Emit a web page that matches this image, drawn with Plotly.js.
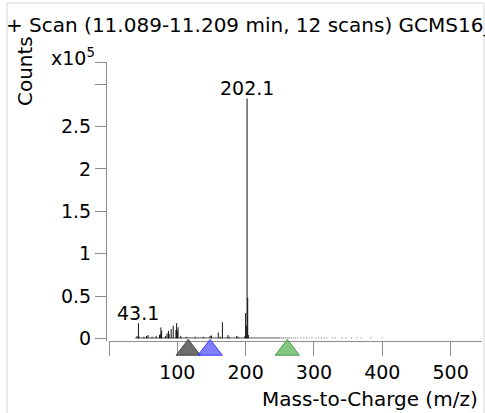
<!DOCTYPE html>
<html>
<head>
<meta charset="utf-8">
<script src="https://cdn.plot.ly/plotly-3.0.1.min.js"></script>
<style>html,body{margin:0;padding:0;background:#fff;}#chart{width:485px;height:413px;}</style>
</head>
<body>
<div id="chart"></div>
<script>
// Major peaks (m/z, counts x10^5)
const majorMz = [41, 43.1, 44, 51, 55, 57, 63, 69, 74, 75, 76, 77, 83, 85, 87, 88, 91, 94, 98, 99, 100, 101, 105, 113, 126, 138, 148, 150, 160, 163, 166, 174, 176, 187, 189, 199, 200, 201, 202.1, 203, 204];
const majorInt = [0.03, 0.18, 0.02, 0.02, 0.03, 0.04, 0.02, 0.03, 0.04, 0.05, 0.13, 0.09, 0.03, 0.06, 0.09, 0.05, 0.11, 0.15, 0.10, 0.18, 0.09, 0.13, 0.03, 0.02, 0.02, 0.02, 0.03, 0.035, 0.07, 0.02, 0.19, 0.04, 0.02, 0.03, 0.02, 0.03, 0.30, 0.15, 2.83, 0.48, 0.04];

// Minor baseline peaks
const minorMz = [39, 40, 42, 45, 46, 47, 48, 49, 50, 52, 53, 54, 56, 58, 59, 60, 61, 62, 64, 65, 66, 67, 68, 70, 71, 72, 73, 78, 79, 80, 81, 82, 84, 86, 89, 90, 92, 93, 95, 96, 97, 102, 103, 104, 106, 107, 108, 109, 110, 111, 112, 114, 115, 116, 117, 118, 119, 120, 121, 122, 123, 124, 125, 127, 128, 129, 130, 131, 132, 133, 134, 135, 136, 137, 139, 140, 141, 142, 143, 144, 145, 146, 147, 149, 151, 152, 153, 154, 155, 156, 157, 158, 159, 161, 162, 164, 165, 167, 168, 169, 170, 171, 172, 173, 175, 177, 178, 179, 180, 181, 182, 183, 184, 185, 186, 188, 190, 191, 192, 193, 194, 195, 196, 197, 198, 205, 206, 207, 208, 209, 210, 211, 212, 213, 214, 215, 216, 217, 218, 219, 220, 221, 222, 223, 224, 225, 226, 227, 228, 229, 230, 231, 232, 233, 234, 235, 236, 237, 238, 239, 240, 241, 242, 243, 244, 245, 246, 247, 248, 249, 250, 252, 253, 255, 256, 258, 259, 261, 263, 265, 267, 270, 273, 276, 281, 285, 289, 293, 297, 303, 307, 311, 315, 319, 327, 331, 341, 347, 355, 363, 369, 383, 400, 403, 405, 413, 428, 443];
const minorInt = [0.012, 0.015, 0.012, 0.018, 0.012, 0.015, 0.012, 0.012, 0.015, 0.012, 0.015, 0.012, 0.018, 0.012, 0.015, 0.012, 0.012, 0.015, 0.012, 0.018, 0.012, 0.015, 0.012, 0.015, 0.012, 0.015, 0.012, 0.015, 0.012, 0.015, 0.018, 0.012, 0.015, 0.012, 0.015, 0.012, 0.015, 0.012, 0.015, 0.012, 0.018, 0.015, 0.012, 0.015, 0.012, 0.015, 0.012, 0.012, 0.015, 0.012, 0.015, 0.012, 0.015, 0.018, 0.012, 0.015, 0.012, 0.015, 0.012, 0.015, 0.012, 0.012, 0.015, 0.012, 0.015, 0.012, 0.012, 0.015, 0.012, 0.012, 0.015, 0.012, 0.012, 0.015, 0.012, 0.015, 0.012, 0.012, 0.015, 0.012, 0.012, 0.015, 0.012, 0.012, 0.015, 0.012, 0.012, 0.015, 0.012, 0.012, 0.015, 0.012, 0.012, 0.015, 0.012, 0.012, 0.015, 0.012, 0.012, 0.015, 0.012, 0.012, 0.015, 0.012, 0.012, 0.015, 0.012, 0.012, 0.015, 0.012, 0.012, 0.015, 0.012, 0.012, 0.015, 0.012, 0.012, 0.015, 0.012, 0.012, 0.015, 0.012, 0.012, 0.015, 0.015, 0.012, 0.012, 0.012, 0.012, 0.012, 0.012, 0.012, 0.012, 0.012, 0.012, 0.012, 0.012, 0.012, 0.012, 0.012, 0.012, 0.012, 0.012, 0.012, 0.012, 0.012, 0.012, 0.012, 0.012, 0.012, 0.012, 0.012, 0.012, 0.012, 0.012, 0.012, 0.012, 0.012, 0.012, 0.012, 0.012, 0.012, 0.012, 0.012, 0.012, 0.012, 0.012, 0.012, 0.012, 0.012, 0.012, 0.012, 0.012, 0.012, 0.012, 0.012, 0.012, 0.012, 0.012, 0.012, 0.012, 0.012, 0.012, 0.012, 0.012, 0.012, 0.012, 0.012, 0.012, 0.012, 0.012, 0.012, 0.012, 0.012, 0.012, 0.012, 0.012, 0.012, 0.012, 0.012, 0.012, 0.012, 0.012];

// Precursor / marker triangles (m/z)
const markerMz = [116, 148, 261];
const markerFill = ['rgba(85,85,85,0.85)', 'rgba(95,95,255,0.8)', 'rgba(100,185,100,0.8)'];
const markerEdge = ['#444444', '#3a3aff', '#4a9a4a'];

// Peak labels
const labelMz = [43.1, 202.1];
const labelInt = [0.18, 2.83];
const labelText = ['43.1', '202.1'];

const xTicks = [0, 100, 200, 300, 400, 500];
const xTickText = ['', '100', '200', '300', '400', '500'];
const yTicks = [0, 0.5, 1, 1.5, 2, 2.5, 3, 3.26];
const yTickText = ['0', '0.5', '1', '1.5', '2', '2.5', '', ''];

function sticks(mz, val) {
  const x = [], y = [];
  for (let i = 0; i < mz.length; i++) {
    x.push(mz[i], mz[i], null);
    y.push(0, val[i], null);
  }
  return {x, y};
}

const minorS = sticks(minorMz, minorInt);
const majorS = sticks(majorMz, majorInt);

const FONT = "'DejaVu Sans', Verdana, sans-serif";

const traces = [
  {type: 'scatter', mode: 'lines', x: minorS.x, y: minorS.y, line: {color: '#777', width: 1}, hoverinfo: 'skip', showlegend: false},
  {type: 'scatter', mode: 'lines', x: majorS.x, y: majorS.y, line: {color: '#111', width: 1}, hoverinfo: 'skip', showlegend: false},
  {type: 'scatter', mode: 'markers', x: markerMz, y: markerMz.map(() => 0.72), xaxis: 'x', yaxis: 'y2', cliponaxis: false,
   marker: {symbol: 'triangle-up', size: 21, color: markerFill, line: {color: markerEdge, width: 1}}, hoverinfo: 'skip', showlegend: false}
];

const annotations = labelMz.map((m, i) => ({
  x: m, y: labelInt[i], xref: 'x', yref: 'y', text: labelText[i], showarrow: false,
  xanchor: 'center', yanchor: 'bottom', yshift: -3, font: {family: FONT, size: 19, color: '#000'}
}));
annotations.push(
  {xref: 'paper', yref: 'paper', x: -0.2154, y: 0.971, text: 'Counts', textangle: -90, showarrow: false,
   xanchor: 'center', yanchor: 'middle', font: {family: FONT, size: 20, color: '#000'}},
  {xref: 'paper', yref: 'paper', x: -0.024, y: 1.016, text: 'x10<sup>5</sup>', showarrow: false,
   xanchor: 'right', yanchor: 'middle', font: {family: FONT, size: 19, color: '#000'}},
  {xref: 'paper', yref: 'paper', x: 0.9947, y: -0.0836, text: 'Mass-to-Charge (m/z)', showarrow: false,
   xanchor: 'right', yanchor: 'middle', font: {family: FONT, size: 20, color: '#000'}}
);

const layout = {
  width: 485, height: 413,
  margin: {l: 106, r: 3, t: 62, b: 40, pad: 0},
  paper_bgcolor: '#fff', plot_bgcolor: 'rgba(0,0,0,0)',
  font: {family: FONT, color: '#000'},
  title: {text: '+ Scan (11.089-11.209 min, 12 scans) GCMS16_', font: {family: FONT, size: 20, color: '#000'},
          x: 6 / 485, xanchor: 'left', xref: 'container', y: 1 - 25 / 413, yanchor: 'middle', yref: 'container'},
  xaxis: {domain: [0.008, 1], range: [0, 546], anchor: 'y', showgrid: false, zeroline: false, showline: true, linecolor: '#8c8c8c', linewidth: 1,
          ticks: 'outside', ticklen: 14, tickcolor: '#8c8c8c', tickwidth: 1, tickvals: xTicks, ticktext: xTickText,
          tickfont: {family: FONT, size: 19, color: '#000'}, fixedrange: true},
  yaxis: {domain: [0.1029, 1], anchor: 'free', position: 0, range: [-0.03, 3.26], showgrid: false, zeroline: false, showline: true, linecolor: '#8c8c8c', linewidth: 1,
          ticks: 'outside', ticklen: 11, tickcolor: '#8c8c8c', tickwidth: 1, tickvals: yTicks, ticktext: yTickText,
          tickfont: {family: FONT, size: 19, color: '#000'}, fixedrange: true},
  yaxis2: {domain: [0, 0.1029], anchor: 'x', range: [0, 1], visible: false, fixedrange: true},
  annotations: annotations,
  shapes: [
    {type: 'rect', xref: 'paper', yref: 'paper', x0: -0.2633, x1: 1.0053, y0: -0.14, y1: 1.1897, line: {color: '#d6d6d6', width: 1}, fillcolor: 'rgba(0,0,0,0)', layer: 'below'}
  ]
};

Plotly.newPlot('chart', traces, layout, {displayModeBar: false, staticPlot: true});
</script>
</body>
</html>
